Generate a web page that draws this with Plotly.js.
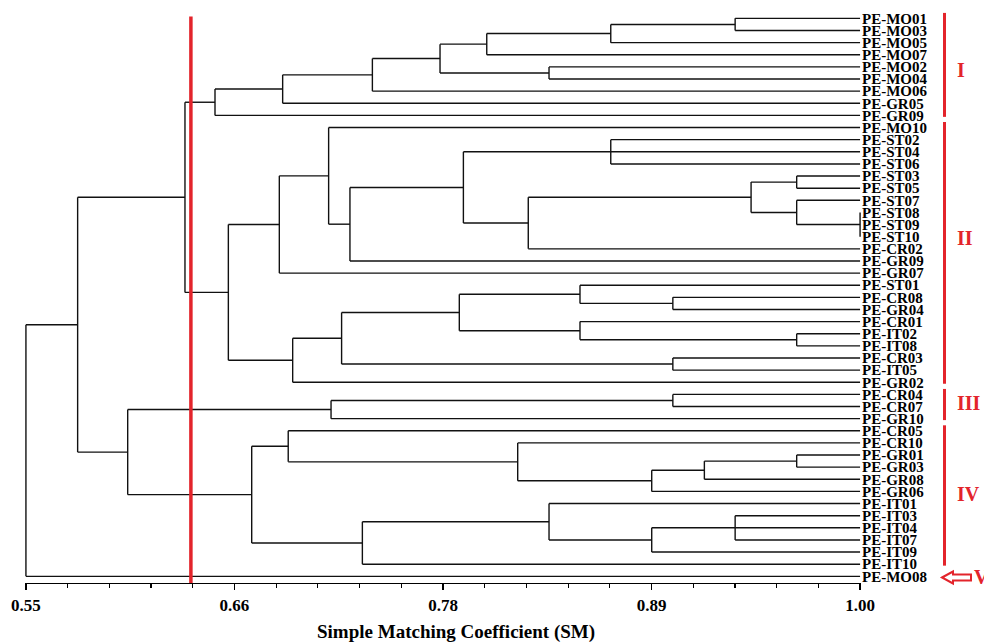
<!DOCTYPE html>
<html>
<head>
<meta charset="utf-8">
<script src="https://cdn.plot.ly/plotly-3.0.1.min.js"></script>
<style>
html,body{margin:0;padding:0;background:#fff;}
#chart{width:984px;height:643px;}
</style>
</head>
<body>
<div id="chart"></div>
<script>
// ---------- DATA ----------
const leafLabels = [
  'PE-MO01','PE-MO03','PE-MO05','PE-MO07','PE-MO02','PE-MO04','PE-MO06','PE-GR05','PE-GR09',
  'PE-MO10','PE-ST02','PE-ST04','PE-ST06','PE-ST03','PE-ST05','PE-ST07','PE-ST08','PE-ST09','PE-ST10',
  'PE-CR02','PE-GR09','PE-GR07','PE-ST01','PE-CR08','PE-GR04','PE-CR01','PE-IT02','PE-IT08','PE-CR03',
  'PE-IT05','PE-GR02','PE-CR04','PE-CR07','PE-GR10','PE-CR05','PE-CR10','PE-GR01','PE-GR03','PE-GR08',
  'PE-GR06','PE-IT01','PE-IT03','PE-IT04','PE-IT07','PE-IT09','PE-IT10','PE-MO08'
];

// merge k joins the listed children: a number is a leaf index, "n<j>" is an earlier merge j
const mergeChildren = [
  [0,1], ['n0',2], ['n1',3], [4,5], ['n2','n3'], ['n4',6], ['n5',7], ['n6',8],
  [10,11,12], [13,14], [16,17,18], [15,'n10'], ['n9','n11'], ['n12',19], ['n8','n13'],
  ['n14',20], [9,'n15'], ['n16',21], [23,24], [22,'n18'], [26,27], [25,'n20'],
  ['n19','n21'], [28,29], ['n22','n23'], ['n24',30], ['n17','n25'], ['n7','n26'],
  [31,32], ['n28',33],
  [36,37], ['n30',38], ['n31',39], [35,'n32'], [34,'n33'],
  [41,42,43], ['n35',44], [40,'n36'], ['n37',45], ['n34','n38'],
  ['n29','n39'], ['n27','n40'], ['n41',46]
];
// similarity (SM) at which each merge happens
const mergeHeights = [
  0.9326, 0.8655, 0.7986, 0.8322, 0.7734, 0.7369, 0.6885, 0.6520,
  0.8655, 0.9658, 1.0000, 0.9658, 0.9412, 0.8210, 0.7860,
  0.7248, 0.7133, 0.6867, 0.8990, 0.8489, 0.9658, 0.8489,
  0.7838, 0.8990, 0.7203, 0.6939, 0.6592, 0.6358,
  0.8990, 0.7146,
  0.9658, 0.9160, 0.8876, 0.8153, 0.6915,
  0.9326, 0.8876, 0.8322, 0.7315, 0.6718,
  0.6049, 0.5779, 0.5500
];

const xTickLabels = ['0.55','0.66','0.78','0.89','1.00'];
const cutValue = 0.639;

const clusterNames = ['I','II','III','IV'];
const clusterFirstLeaf = [0, 9, 31, 34];
const clusterLastLeaf = [8, 30, 33, 45];
const outlierName = 'V';
const outlierLeaf = 46;

// ---------- BUILD DENDROGRAM SEGMENTS ----------
const leafX = 1.0;
const nodeY = [];
function childPos(c){
  if (typeof c === 'number') return {x: leafX, y: c};
  const j = +c.slice(1);
  return {x: mergeHeights[j], y: nodeY[j]};
}
const xs = [], ys = [];
mergeChildren.forEach((ch, k) => {
  const h = mergeHeights[k];
  const pts = ch.map(childPos);
  const yv = pts.map(p => p.y);
  const ymin = Math.min(...yv), ymax = Math.max(...yv);
  nodeY[k] = (ymin + ymax) / 2;
  xs.push(h, h, null); ys.push(ymin, ymax, null);
  pts.forEach(p => { xs.push(p.x, h, null); ys.push(p.y, p.y, null); });
});

// ---------- LAYOUT GEOMETRY ----------
const W = 984, H = 643;
const mL = 25, mR = 123, mT = 6, mB = 60;
const plotW = W - mL - mR, plotH = H - mT - mB;
const yTop = -1.02, yBot = 46.55;
const RED = '#e3242b';
const serif = 'Liberation Serif, Times New Roman, serif';
const pxX = px => (px - mL) / plotW;          // pixel -> paper x
const pxY = py => (H - mB - py) / plotH;      // pixel -> paper y

const shapes = [];
// cut line
shapes.push({type:'line', xref:'x', yref:'y', x0:cutValue, x1:cutValue, y0:-0.15, y1:46.8,
  line:{color:RED, width:3.5}, layer:'above'});
// cluster bars
clusterNames.forEach((n, i) => {
  shapes.push({type:'line', xref:'paper', yref:'y', x0:pxX(944.5), x1:pxX(944.5),
    y0:clusterFirstLeaf[i] - 0.45, y1:clusterLastLeaf[i] + 0.12,
    line:{color:RED, width:3}});
});
// outlined arrow for the outlier
const ay = 577.5;
const arrowPts = [[942,ay],[953,ay-6],[953,ay-3],[971,ay-3],[971,ay+3],[953,ay+3],[953,ay+6]];
shapes.push({type:'path', xref:'paper', yref:'paper',
  path: 'M' + arrowPts.map(p => pxX(p[0]).toFixed(5) + ',' + pxY(p[1]).toFixed(5)).join(' L') + ' Z',
  line:{color:RED, width:2}, fillcolor:'#ffffff'});

const clusterLabelY = [4.26, 18.1, 31.7, 39.2];
const annotations = clusterNames.map((n, i) => ({
  text: n, xref:'paper', yref:'y', x: pxX(955), y: clusterLabelY[i], xanchor:'left', yanchor:'middle',
  showarrow:false, font:{family:serif, size:20, color:RED, weight:'bold'}
}));
annotations.push({text: outlierName, xref:'paper', yref:'y', x: pxX(972), y: outlierLeaf + 0.05,
  xanchor:'left', yanchor:'middle', showarrow:false, font:{family:serif, size:20, color:RED, weight:'bold'}});
annotations.push({text:'Simple Matching Coefficient (SM)', xref:'paper', yref:'paper',
  x: pxX(456), y: pxY(632), xanchor:'center', yanchor:'middle', showarrow:false,
  font:{family:serif, size:19, color:'#000', weight:'bold'}});

const trace = {
  type:'scatter', mode:'lines', x: xs, y: ys,
  line:{color:'#111', width:1.4}, hoverinfo:'skip', showlegend:false
};

const layout = {
  width:W, height:H, margin:{l:mL, r:mR, t:mT, b:mB, pad:0},
  paper_bgcolor:'#fff', plot_bgcolor:'#fff', showlegend:false,
  xaxis:{
    range:[0.5495, 1.0005], autorange:false,
    tickmode:'array', tickvals: xTickLabels.map((_, i) => 0.55 + i * 0.1125), ticktext: xTickLabels,
    ticks:'outside', ticklen:6, tickwidth:1.3, tickcolor:'#000',
    minor:{tick0:0.55, dtick:0.0225, ticks:'outside', ticklen:3.5, tickwidth:1.2, tickcolor:'#000', showgrid:false},
    showline:true, linecolor:'#000', linewidth:1.3,
    showgrid:false, zeroline:false,
    tickfont:{family:serif, size:17, color:'#000', weight:'bold'}
  },
  yaxis:{
    range:[yBot, yTop], autorange:false, side:'right',
    tickmode:'array', tickvals: leafLabels.map((_, i) => i), ticktext: leafLabels,
    ticks:'', showline:false, showgrid:false, zeroline:false,
    tickfont:{family:serif, size:15, color:'#000', weight:'bold'}
  },
  shapes, annotations
};

Plotly.newPlot('chart', [trace], layout, {displayModeBar:false, staticPlot:true});
</script>
</body>
</html>
